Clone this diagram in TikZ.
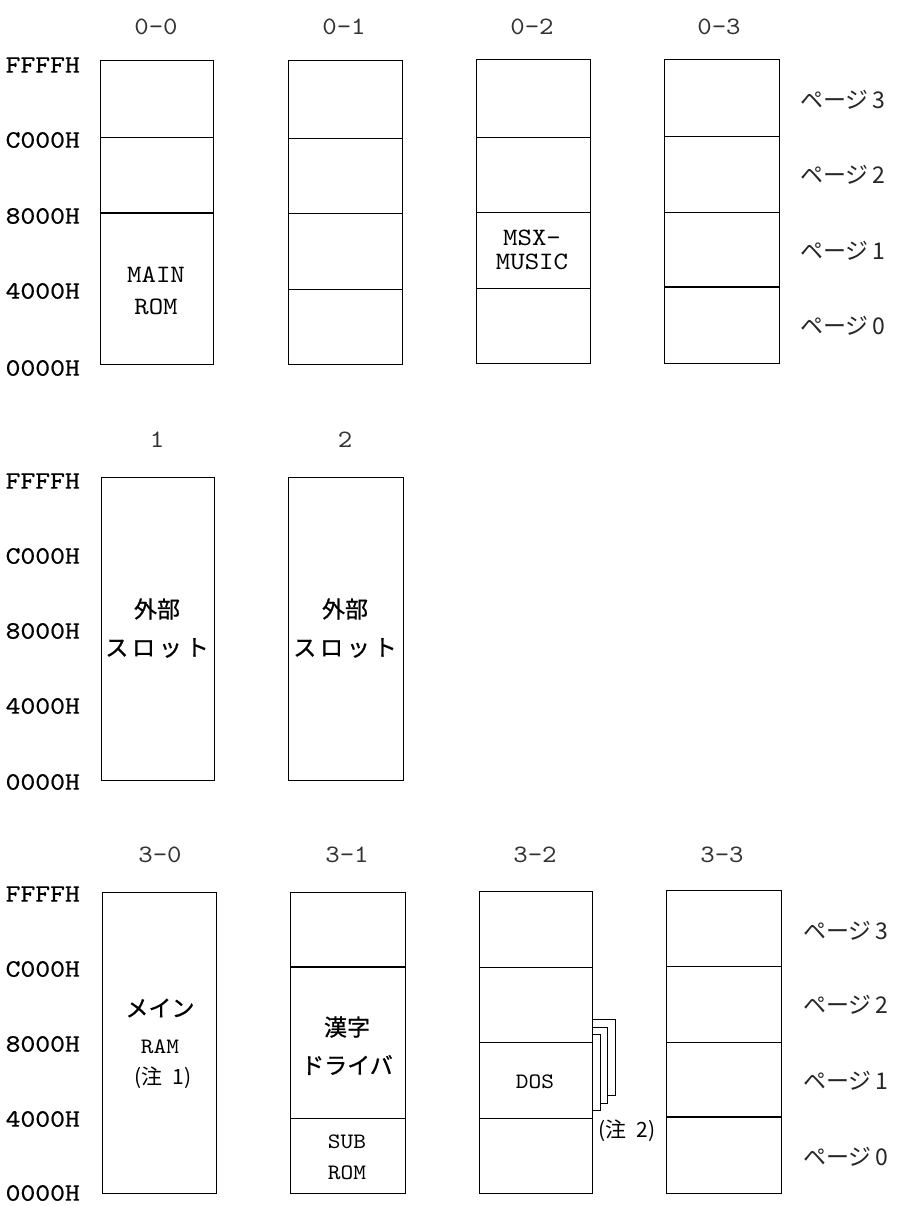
\documentclass[tikz,border=0pt]{standalone}
\usepackage{fontspec}
\newfontfamily\mono{lmmono10-regular.otf}[FakeStretch=1.13, FakeBold=0.6]
\newfontfamily\monolight{lmmono10-regular.otf}[FakeStretch=1.1]
\newfontfamily\cjk{Noto Sans CJK JP}[FakeBold=0.8]
\newfontfamily\cjkl{Noto Sans CJK JP}
\newcommand\memslot[5]{\node[slotbox, minimum width=#4pt, minimum height=#5pt, anchor=north west] (#1) at (#2,#3) {};}
\newcommand\pageline[3][div]{\draw[#1] (#2.west |- 0,#3) -- (#2.east |- 0,#3);}
\begin{document}
\begin{tikzpicture}[x=1pt,y=-1pt,
  slotbox/.style={draw, line width=1pt, fill=white, inner sep=0pt, outer sep=0pt},
  div/.style={line width=0.8pt},
  thickdiv/.style={line width=1.6pt},
  addr/.style={font=\mono\fontsize{25}{28}\selectfont, anchor=east, inner sep=0pt},
  tt/.style={font=\monolight\fontsize{25}{28}\selectfont, inner sep=0pt},
  ttsmall/.style={font=\monolight\fontsize{22}{26}\selectfont, inner sep=0pt},
  title/.style={font=\monolight\fontsize{25}{28}\selectfont, inner sep=0pt, text=black!80},
  jp/.style={font=\cjk\fontsize{23}{26}\selectfont, inner sep=0pt},
  jpsmall/.style={font=\cjkl\fontsize{21}{24}\selectfont, inner sep=0pt},
  pg/.style={font=\cjkl\fontsize{23}{25}\selectfont, anchor=west, inner sep=0pt, text=black!85},
]
\useasboundingbox (0,0) rectangle (903,1206);
\fill[white] (0,0) rectangle (903,1206);

% ---------------- Row 1 ----------------
\node[title] (t00) at (156,27) {0-0};
\node[title] (t01) at (344,27) {0-1};
\node[title] (t02) at (532,27) {0-2};
\node[title] (t03) at (719,27) {0-3};

\node[addr] (a1f) at (80,65) {FFFFH};
\node[addr] (a1c) at (80,140) {C000H};
\node[addr] (a18) at (80,216) {8000H};
\node[addr] (a14) at (80,291) {4000H};
\node[addr] (a10) at (80,368) {0000H};

\memslot{s00}{100}{61}{113}{303}
\pageline{s00}{137}
\pageline[thickdiv]{s00}{213}
\node[tt] (main) at (156,275) {MAIN};
\node[tt] (mrom) at (156,307) {ROM};

\memslot{s01}{288}{61}{114}{303}
\pageline{s01}{138}
\pageline{s01}{213}
\pageline{s01}{289}

\memslot{s02}{476}{60}{114}{303}
\pageline{s02}{137}
\pageline{s02}{212}
\pageline{s02}{288}
\node[tt] (msx) at (532,238) {MSX-};
\node[tt] (music) at (532,262) {MUSIC};

\memslot{s03}{664}{60}{115}{303}
\pageline{s03}{136}
\pageline{s03}{212}
\pageline[thickdiv]{s03}{287}

\node[pg] (p13) at (800,100) {ページ\,3};
\node[pg] (p12) at (800,175) {ページ\,2};
\node[pg] (p11) at (800,251) {ページ\,1};
\node[pg] (p10) at (800,326) {ページ\,0};

% ---------------- Row 2 ----------------
\node[title] (t1) at (157,440) {1};
\node[title] (t2) at (345,440) {2};

\node[addr] (a2f) at (80,481) {FFFFH};
\node[addr] (a2c) at (80,556) {C000H};
\node[addr] (a28) at (80,631) {8000H};
\node[addr] (a24) at (80,706) {4000H};
\node[addr] (a20) at (80,782) {0000H};

\memslot{s1}{101}{477}{113}{303}
\node[jp] (gb1) at (157,609) {外部};
\node[jp] (sl1) at (157,648) {ス\,ロ\,ッ\,ト};

\memslot{s2}{288}{477}{115}{303}
\node[jp] (gb2) at (345,609) {外部};
\node[jp] (sl2) at (345,648) {ス\,ロ\,ッ\,ト};

% ---------------- Row 3 ----------------
\node[title] (t30) at (160,855) {3-0};
\node[title] (t31) at (347,855) {3-1};
\node[title] (t32) at (535,855) {3-2};
\node[title] (t33) at (722,855) {3-3};

\node[addr] (a3f) at (80,894) {FFFFH};
\node[addr] (a3c) at (80,969) {C000H};
\node[addr] (a38) at (80,1044) {8000H};
\node[addr] (a34) at (80,1119) {4000H};
\node[addr] (a30) at (80,1193) {0000H};

\memslot{s30}{102}{892}{114}{301}
\node[jp] (mein) at (160,1008) {メイン};
\node[ttsmall] (ram) at (160,1047) {RAM};
\node[jpsmall] (n1) at (163,1078) {(注\enspace 1)};

\memslot{s31}{290}{892}{115}{301}
\pageline[thickdiv]{s31}{967}
\pageline{s31}{1118}
\node[jp] (kanji) at (347,1027) {漢字};
\node[jp] (drv) at (347,1065) {ドライバ};
\node[ttsmall] (sub) at (347,1142) {SUB};
\node[ttsmall] (srom) at (347,1173) {ROM};

% stacked DOS pages behind slot 3-2
\node[slotbox, line width=0.8pt, minimum width=113pt, minimum height=76pt, anchor=north west] (dos3) at (502,1019) {};
\node[slotbox, line width=0.8pt, minimum width=113pt, minimum height=76pt, anchor=north west] (dos2) at (494,1027) {};
\node[slotbox, line width=0.8pt, minimum width=113pt, minimum height=76pt, anchor=north west] (dos1) at (487,1034) {};

\memslot{s32}{479}{891}{113}{302}
\pageline{s32}{967}
\pageline{s32}{1042}
\pageline{s32}{1118}
\node[ttsmall] (dos) at (535,1082) {DOS};
\node[jpsmall] (n2) at (627,1131) {(注\enspace 2)};

\memslot{s33}{666}{890}{115}{303}
\pageline{s33}{966}
\pageline{s33}{1042}
\pageline[thickdiv]{s33}{1117}

\node[pg] (p33) at (803,931) {ページ\,3};
\node[pg] (p32) at (803,1005) {ページ\,2};
\node[pg] (p31) at (803,1081) {ページ\,1};
\node[pg] (p30) at (803,1157) {ページ\,0};
\end{tikzpicture}
\end{document}
